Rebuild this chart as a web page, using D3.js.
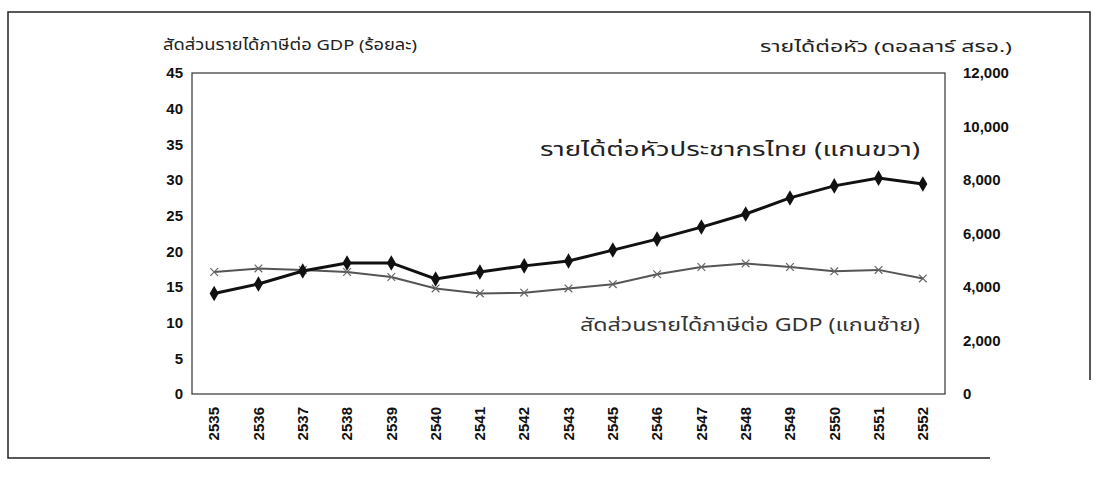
<!DOCTYPE html>
<html>
<head>
<meta charset="utf-8">
<script src="https://cdn.jsdelivr.net/npm/d3@7"></script>
<style>
  body { margin: 0; background: #fff; }
  .thai { font-family: "Noto Sans Thai", Tahoma, sans-serif; }
  .num { font-family: Arial, "Liberation Sans", sans-serif; font-weight: bold; font-size: 15px; fill: #111; }
</style>
</head>
<body>
<div id="chart"></div>
<script>
// years (พ.ศ.) - no 2544 in the source
var years = ['2535','2536','2537','2538','2539','2540','2541','2542','2543',
             '2545','2546','2547','2548','2549','2550','2551','2552'];
// income per head, USD (right axis)
var incomePerHead = [3760, 4110, 4600, 4900, 4900, 4300, 4560, 4790, 4970,
                     5380, 5790, 6240, 6730, 7330, 7780, 8070, 7850];
// tax revenue / GDP, percent (left axis)
var taxToGdp = [17.1, 17.6, 17.4, 17.1, 16.4, 14.8, 14.1, 14.2, 14.8,
                15.4, 16.8, 17.8, 18.3, 17.8, 17.2, 17.4, 16.2];
var leftTicks = [0, 5, 10, 15, 20, 25, 30, 35, 40, 45];
var rightTicks = [0, 2000, 4000, 6000, 8000, 10000, 12000];

var W = 1097, H = 484;
var plot = {left: 192, right: 945, top: 73, bottom: 394};

var svg = d3.select('#chart').append('svg')
    .attr('width', W).attr('height', H);

// outer frame (scan is cut at bottom-right)
svg.append('path')
   .attr('d', 'M990,458 L8,458 L8,12 L1090,12 L1090,380')
   .attr('fill', 'none').attr('stroke', '#222').attr('stroke-width', 1.5);

var x = d3.scaleBand().domain(years).range([plot.left, plot.right]);
var yL = d3.scaleLinear().domain([0, 45]).range([plot.bottom, plot.top]);
var yR = d3.scaleLinear().domain([0, 12000]).range([plot.bottom, plot.top]);

// plot box
svg.append('rect')
   .attr('x', plot.left).attr('y', plot.top)
   .attr('width', plot.right - plot.left).attr('height', plot.bottom - plot.top)
   .attr('fill', 'none').attr('stroke', '#333').attr('stroke-width', 1.2);

// left axis
var gl = svg.append('g').attr('transform', 'translate(' + plot.left + ',0)')
   .call(d3.axisLeft(yL).tickValues(leftTicks).tickSize(0).tickPadding(9));
gl.select('.domain').remove();
gl.selectAll('text').attr('class', 'num');
gl.attr('font-family', null).attr('font-size', null);

// right axis
var gr = svg.append('g').attr('transform', 'translate(' + plot.right + ',0)')
   .call(d3.axisRight(yR).tickValues(rightTicks).tickSize(0).tickPadding(18)
         .tickFormat(d3.format(',')));
gr.select('.domain').remove();
gr.selectAll('text').attr('class', 'num');
gr.attr('font-family', null).attr('font-size', null);

// x axis, rotated labels
var gx = svg.append('g').attr('transform', 'translate(0,' + plot.bottom + ')')
   .call(d3.axisBottom(x).tickSize(0));
gx.select('.domain').remove();
gx.attr('font-family', null).attr('font-size', null);
gx.selectAll('text')
  .attr('class', 'num')
  .attr('text-anchor', 'end')
  .attr('transform', 'rotate(-90)')
  .attr('x', -13).attr('y', 0).attr('dy', '0.35em');

var cx = function(d, i) { return x(years[i]) + x.bandwidth() / 2; };

// tax / GDP line
var taxLine = d3.line().x(cx).y(function(d) { return yL(d); });
svg.append('path').datum(taxToGdp)
   .attr('d', taxLine).attr('fill', 'none')
   .attr('stroke', '#555').attr('stroke-width', 2);
var star = d3.symbol().type(d3.symbolX).size(40);
svg.selectAll('.taxpt').data(taxToGdp).enter().append('path')
   .attr('class', 'taxpt')
   .attr('transform', function(d, i) { return 'translate(' + cx(d, i) + ',' + yL(d) + ')'; })
   .attr('d', star).attr('fill', 'none').attr('stroke', '#666').attr('stroke-width', 1.2);

// income line
var incLine = d3.line().x(cx).y(function(d) { return yR(d); });
svg.append('path').datum(incomePerHead)
   .attr('d', incLine).attr('fill', 'none')
   .attr('stroke', '#111').attr('stroke-width', 3);
var diamond = d3.symbol().type(d3.symbolDiamond).size(70);
svg.selectAll('.incpt').data(incomePerHead).enter().append('path')
   .attr('class', 'incpt')
   .attr('transform', function(d, i) { return 'translate(' + cx(d, i) + ',' + yR(d) + ')'; })
   .attr('d', diamond).attr('fill', '#111');

// axis titles
svg.append('text').attr('class', 'thai').attr('x', 163).attr('y', 50)
   .attr('font-size', 15).attr('fill', '#222')
   .attr('textLength', 254).attr('lengthAdjust', 'spacingAndGlyphs')
   .text('สัดส่วนรายได้ภาษีต่อ GDP (ร้อยละ)');
svg.append('text').attr('class', 'thai').attr('x', 760).attr('y', 52)
   .attr('font-size', 15).attr('fill', '#222')
   .attr('textLength', 252).attr('lengthAdjust', 'spacingAndGlyphs')
   .text('รายได้ต่อหัว (ดอลลาร์ สรอ.)');

// series labels
svg.append('text').attr('class', 'thai').attr('x', 540).attr('y', 156)
   .attr('font-size', 20).attr('fill', '#222')
   .attr('textLength', 380).attr('lengthAdjust', 'spacingAndGlyphs')
   .text('รายได้ต่อหัวประชากรไทย (แกนขวา)');
svg.append('text').attr('class', 'thai').attr('x', 580).attr('y', 331)
   .attr('font-size', 18).attr('fill', '#333')
   .attr('textLength', 340).attr('lengthAdjust', 'spacingAndGlyphs')
   .text('สัดส่วนรายได้ภาษีต่อ GDP (แกนซ้าย)');
</script>
</body>
</html>
